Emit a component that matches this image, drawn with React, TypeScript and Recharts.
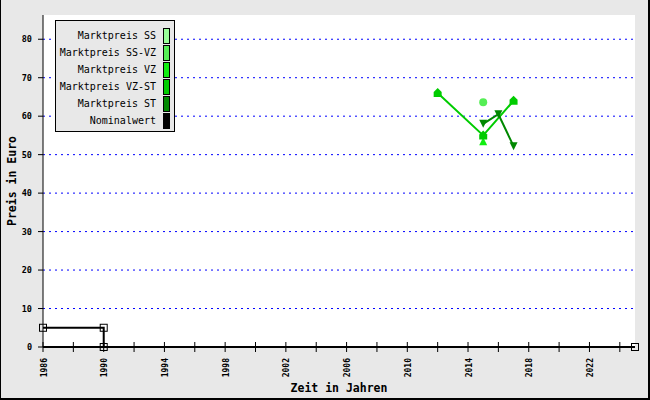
import React from 'react';
import { ComposedChart, Line, XAxis, YAxis, CartesianGrid, Label } from 'recharts';

type Pt = { x: number; y: number };

const SERIES_NAMES = [
  'Marktpreis SS',
  'Marktpreis SS-VZ',
  'Marktpreis VZ',
  'Marktpreis VZ-ST',
  'Marktpreis ST',
  'Nominalwert',
];
const SERIES_COLORS = ['#99ff99', '#55ee55', '#11ee11', '#00cc00', '#008800', '#000000'];

// values (year, price in euro)
const ssData: Pt[] = [];
const ssVzData: Pt[] = [{ x: 2015, y: 63.6 }];
const vzData: Pt[] = [{ x: 2015, y: 53.5 }];
const vzStData: Pt[] = [
  { x: 2012, y: 66 },
  { x: 2015, y: 55 },
  { x: 2017, y: 64 },
];
const stData: Pt[] = [
  { x: 2015, y: 58 },
  { x: 2016, y: 60.5 },
  { x: 2017, y: 52.2 },
];
const nominalData: Pt[] = [
  { x: 1986, y: 5 },
  { x: 1990, y: 5 },
  { x: 1990, y: 0 },
  { x: 2025, y: 0 },
];

const X_TICKS = [1986, 1988, 1990, 1992, 1994, 1996, 1998, 2000, 2002, 2004, 2006, 2008, 2010, 2012, 2014, 2016, 2018, 2020, 2022, 2024];
const X_LABELS = [1986, 1990, 1994, 1998, 2002, 2006, 2010, 2014, 2018, 2022];
const Y_TICKS = [0, 10, 20, 30, 40, 50, 60, 70, 80];
const GRID_VALUES = [10, 20, 30, 40, 50, 60, 70, 80];

const MONO = '"DejaVu Sans Mono", monospace';

const XTick = (props: any) => {
  const { x, y, payload } = props;
  const v = payload.value;
  const tx = x + 3.5;
  const ty = y + 11;
  return (
    <g>
      <line x1={x} x2={x} y1={y - 5} y2={y + 5} stroke="#000" strokeWidth={1} />
      {X_LABELS.includes(v) && (
        <text x={tx} y={ty} transform={`rotate(-90, ${tx}, ${ty})`} textAnchor="end"
          fontFamily={MONO} fontSize={8} fontWeight="bold" fill="#000">
          {v}
        </text>
      )}
    </g>
  );
};

const squareDot = (props: any) => {
  const { cx, cy, key } = props;
  return <rect key={key} x={cx - 3.5} y={cy - 3.5} width={7} height={7} fill="none" stroke="#000" strokeWidth={1} />;
};

const circleDot = (color: string) => (props: any) => {
  const { cx, cy, key } = props;
  return <circle key={key} cx={cx} cy={cy} r={4} fill={color} stroke="none" />;
};

const triUpDot = (color: string) => (props: any) => {
  const { cx, cy, key } = props;
  return <polygon key={key} points={`${cx - 4},${cy + 4} ${cx + 4},${cy + 4} ${cx},${cy - 4}`} fill={color} />;
};

const houseDot = (color: string) => (props: any) => {
  const { cx, cy, key } = props;
  return (
    <polygon key={key}
      points={`${cx - 4},${cy + 4} ${cx + 4},${cy + 4} ${cx + 4},${cy - 1} ${cx},${cy - 5} ${cx - 4},${cy - 1}`}
      fill={color} />
  );
};

const triDownDot = (color: string) => (props: any) => {
  const { cx, cy, key } = props;
  return <polygon key={key} points={`${cx - 4},${cy - 4} ${cx + 4},${cy - 4} ${cx},${cy + 4}`} fill={color} />;
};

export default function App() {
  return (
    <div style={{ position: 'absolute', left: 0, top: 0, width: 650, height: 400, background: '#e8e8e8' }}>
      <ComposedChart width={650} height={400} margin={{ top: 15, right: 15, bottom: 0, left: 0 }}>
        <CartesianGrid vertical={false} horizontalValues={GRID_VALUES} fill="#ffffff" stroke="#0000ff" strokeDasharray="2 4" />
        <XAxis type="number" dataKey="x" domain={[1986, 2025]} ticks={X_TICKS} interval={0}
          height={53} tickLine={false} tickSize={0} tickMargin={0}
          axisLine={{ stroke: '#000', strokeWidth: 2 }} tick={<XTick />}>
          <Label content={(p: any) => {
            const vb = p.viewBox;
            return (
              <text x={vb.x + vb.width / 2} y={vb.y + 45} textAnchor="middle"
                fontFamily={MONO} fontSize={11.5} fontWeight="bold" fill="#000">Zeit in Jahren</text>
            );
          }} />
        </XAxis>
        <YAxis type="number" dataKey="y" domain={[0, 86.3]} ticks={Y_TICKS} interval={0}
          width={43} tickSize={5} tickMargin={6}
          axisLine={{ stroke: '#000' }} tickLine={{ stroke: '#000' }}
          tick={{ fontFamily: MONO, fontSize: 8.5, fontWeight: 'bold', fill: '#000' }}>
          <Label content={(p: any) => {
            const vb = p.viewBox;
            const cx = 16;
            const cy = vb.y + vb.height / 2;
            return (
              <text x={cx} y={cy} transform={`rotate(-90, ${cx}, ${cy})`} textAnchor="middle"
                fontFamily={MONO} fontSize={11.5} fontWeight="bold" fill="#000">Preis in Euro</text>
            );
          }} />
        </YAxis>
        <Line data={ssData} dataKey="y" stroke={SERIES_COLORS[0]} strokeWidth={2} dot={circleDot(SERIES_COLORS[0])} isAnimationActive={false} />
        <Line data={ssVzData} dataKey="y" stroke={SERIES_COLORS[1]} strokeWidth={2} dot={circleDot(SERIES_COLORS[1])} isAnimationActive={false} />
        <Line data={vzData} dataKey="y" stroke={SERIES_COLORS[2]} strokeWidth={2} dot={triUpDot(SERIES_COLORS[2])} isAnimationActive={false} />
        <Line data={vzStData} dataKey="y" stroke={SERIES_COLORS[3]} strokeWidth={2} dot={houseDot(SERIES_COLORS[3])} isAnimationActive={false} />
        <Line data={stData} dataKey="y" stroke={SERIES_COLORS[4]} strokeWidth={2} dot={triDownDot(SERIES_COLORS[4])} isAnimationActive={false} />
        <Line data={nominalData} dataKey="y" stroke={SERIES_COLORS[5]} strokeWidth={2} dot={squareDot} isAnimationActive={false} />
      </ComposedChart>

      <div style={{
        position: 'absolute', left: 55, top: 20, width: 120, height: 112,
        background: '#e8e8e8', border: '1px solid #000', boxSizing: 'border-box',
        padding: '6px 0 0 0',
      }}>
        {SERIES_NAMES.map((name, i) => (
          <div key={name} style={{ display: 'flex', alignItems: 'center', justifyContent: 'flex-end', height: 17, paddingRight: 4 }}>
            <span style={{ fontFamily: MONO, fontSize: 10, color: '#000', marginRight: 7, whiteSpace: 'nowrap' }}>{name}</span>
            <span style={{ display: 'inline-block', width: 5, height: 14, background: SERIES_COLORS[i], border: '1px solid #000' }} />
          </div>
        ))}
      </div>

      <div style={{
        position: 'absolute', left: 0, top: 0, width: 650, height: 400, boxSizing: 'border-box',
        borderLeft: '1px solid #000', borderRight: '2px solid #000', borderBottom: '2px solid #000',
        pointerEvents: 'none',
      }} />
    </div>
  );
}
